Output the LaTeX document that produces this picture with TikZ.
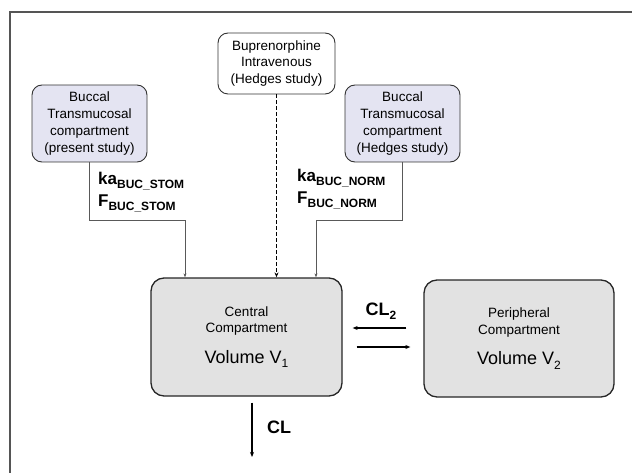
\documentclass[tikz,border=0pt]{standalone}
\usepackage{fontspec}
\setmainfont{Liberation Sans}
\usetikzlibrary{positioning}
\usetikzlibrary{arrows.meta}
\usetikzlibrary{calc}

\definecolor{bucfill}{RGB}{228,228,242}
\definecolor{compfill}{RGB}{226,226,226}
\definecolor{framegray}{RGB}{85,85,85}

\newcommand{\lsub}[1]{\raisebox{-0.45ex}{\fontsize{12}{12}\selectfont #1}}

\tikzset{
    smallbox/.style={draw=black!80, line width=0.9pt, rounded corners=10pt,
        align=center, inner sep=0pt, minimum width=115pt, minimum height=77pt,
        font=\fontsize{13.5}{16.7}\selectfont},
    ivbox/.style={smallbox, fill=white, minimum width=117pt, minimum height=61pt},
    bucbox/.style={smallbox, fill=bucfill},
    compbox/.style={draw=black!85, line width=1.3pt, rounded corners=13pt, fill=compfill,
        align=center, inner sep=0pt, minimum width=191pt, minimum height=118pt,
        font=\fontsize{13.5}{16.7}\selectfont},
    feed/.style={draw=black!65, line width=0.6pt, -{Stealth[length=4pt,width=3pt]}},
    flow/.style={line width=1.2pt, -{Stealth[length=5pt,width=4pt]}},
    ratelabel/.style={align=left, inner sep=0pt, font=\fontsize{17}{22}\selectfont\bfseries},
}

\begin{document}
\begin{tikzpicture}[x=1pt, y=-1pt]
    \useasboundingbox (0,0) rectangle (632,473);
    \draw [framegray, line width=1.4pt] (632,12) -- (10,12) -- (10,473);

    \node[ivbox] (bupIV) at (276.5,63.5) {Buprenorphine\\Intravenous\\(Hedges study)};
    \node[bucbox] (bucPresent) at (89.5,123.5) {Buccal\\Transmucosal\\compartment\\(present study)};
    \node[bucbox] (bucHedges) at (402.5,123.5) {Buccal\\Transmucosal\\compartment\\(Hedges study)};

    \node[compbox] (central) at (246.5,337)
        {Central\\Compartment\\[14pt]{\fontsize{18}{21}\selectfont Volume V\lsub{1}}};
    \node[compbox, minimum width=190pt, minimum height=117pt] (peripheral) at (519,338.5)
        {Peripheral\\Compartment\\[14pt]{\fontsize{18}{21}\selectfont Volume V\lsub{2}}};

    \coordinate (kneeL) at (185,220);
    \coordinate (kneeR) at (316,220);
    \draw [feed] (bucPresent.south) |- (kneeL) -- (kneeL |- central.north);
    \draw [feed] (bucHedges.south) |- (kneeR) -- (kneeR |- central.north);
    \draw [line width=1.2pt, dash pattern=on 4pt off 2pt, -{Stealth[length=5pt,width=4pt]}]
        (bupIV.south) -- (bupIV.south |- central.north);

    \node[ratelabel, anchor=north west] (rateL) at (98,172)
        {ka\lsub{BUC\_STOM}\\F\lsub{BUC\_STOM}};
    \node[ratelabel, anchor=north west] (rateR) at (297,169)
        {ka\lsub{BUC\_NORM}\\F\lsub{BUC\_NORM}};

    \draw [flow] ($(peripheral.west)+(-17,-10.5)$) -- ($(central.east)+(10,-9)$);
    \draw [flow] ($(central.east)+(14,10)$) -- ($(peripheral.west)+(-13,8.5)$);
    \node[font=\fontsize{18}{20}\selectfont\bfseries] (cl2) at (381,311) {CL\lsub{2}};

    \coordinate (clOut) at (252,457);
    \draw [flow] ($(central.south)+(5.5,6)$) -- (clOut);
    \node[font=\fontsize{18}{20}\selectfont\bfseries] (cl) at (279,427) {CL};
\end{tikzpicture}
\end{document}
